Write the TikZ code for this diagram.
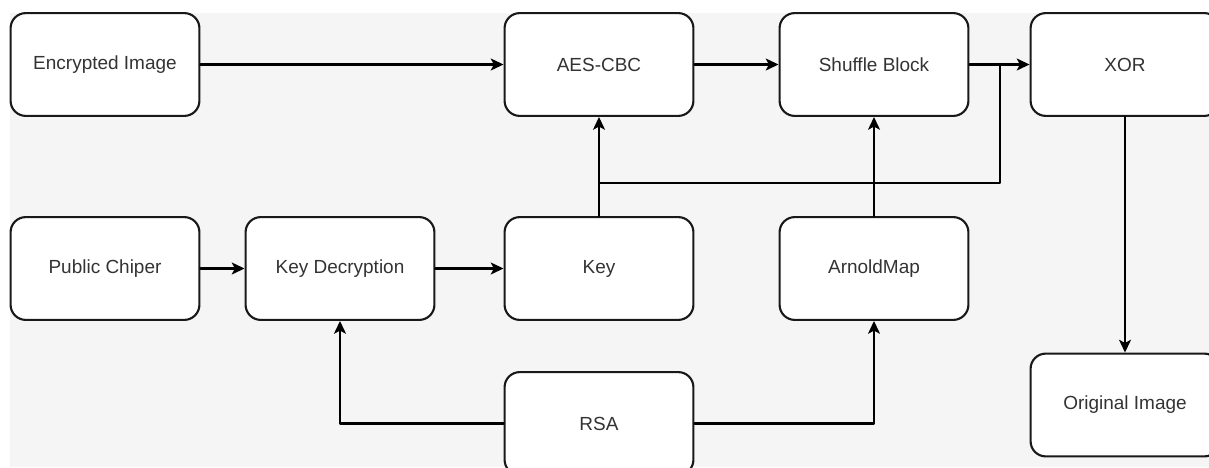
\documentclass[tikz,border=0pt]{standalone}
\usepackage{fontspec}
\setmainfont{Liberation Sans}
\usetikzlibrary{arrows.meta}
\usetikzlibrary{positioning}
\definecolor{bggray}{HTML}{F5F5F5}
\definecolor{txtgray}{HTML}{333333}
\tikzstyle{every node}=[font=\fontsize{13.5}{16}\selectfont,text=txtgray]
\tikzstyle{block}=[draw=black!90,fill=white,rounded corners=0.38cm,minimum width=4.72cm,minimum height=2.57cm,inner sep=0pt]
\tikzstyle{flow}=[-{Stealth[length=0.32cm,width=0.3cm,inset=0.08cm]}]
\begin{document}
\begin{tikzpicture}[x=0.025cm,y=-0.025cm,line width=1.5pt,line cap=round,line join=round]
  \useasboundingbox (0,0) rectangle (1209,467);
  \clip (0,0) rectangle (1209,467);
  \fill[bggray] (10,13) rectangle (1209,467);
  % top row
  \node[block] (enc) at (105,64.5) {Encrypted Image};
  \node[block] (aes) at (599,64.5) {AES-CBC};
  \node[block] (shuf) at (874,64.5) {Shuffle Block};
  \node[block] (xor) at (1125,64.5) {XOR};
  % middle row
  \node[block] (pub) at (105,268.5) {Public Chiper};
  \node[block] (keydec) at (340,268.5) {Key Decryption};
  \node[block] (key) at (599,268.5) {Key};
  \node[block] (arnold) at (874,268.5) {ArnoldMap};
  % bottom
  \node[block] (rsa) at (599,423.5) {RSA};
  \node[block] (orig) at (1125,405) {Original Image};
  %
  \coordinate (split) at (599,183);
  \coordinate (merge) at (1000,64.5);
  \draw[flow] (enc) -- (aes);
  \draw[flow] (aes) -- (shuf);
  \draw[flow] (shuf) -- (xor);
  \draw[flow] (xor) -- (orig);
  \draw[flow] (pub) -- (keydec);
  \draw[flow] (keydec) -- (key);
  \draw[flow] (key) -- (aes);
  \draw (split) -| (merge);
  \draw[flow] (arnold) -- (shuf);
  \draw[flow] (rsa.west) -| (keydec.south);
  \draw[flow] (rsa.east) -| (arnold.south);
\end{tikzpicture}
\end{document}
